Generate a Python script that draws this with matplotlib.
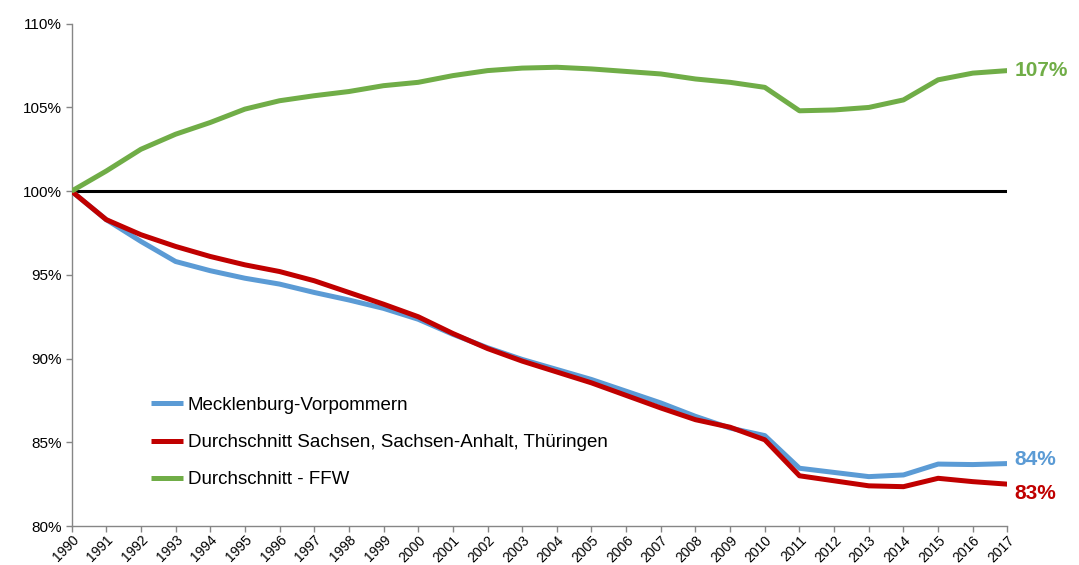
import matplotlib.pyplot as plt
import numpy as np

plt.rcParams['font.family'] = ['Liberation Sans', 'DejaVu Sans']

# data (index 1990 = 100%)
years = list(range(1990, 2018))
mv = [100.0, 98.3, 97.0, 95.8, 95.25, 94.8, 94.45, 93.95, 93.5, 93.0,
      92.35, 91.45, 90.65, 89.95, 89.35, 88.75, 88.05, 87.35, 86.55, 85.85,
      85.4, 83.45, 83.2, 82.95, 83.05, 83.7, 83.67, 83.73]
sst = [100.0, 98.3, 97.4, 96.7, 96.1, 95.6, 95.2, 94.65, 93.95, 93.25,
       92.5, 91.5, 90.6, 89.85, 89.2, 88.55, 87.8, 87.05, 86.35, 85.9,
       85.15, 83.0, 82.7, 82.4, 82.35, 82.85, 82.65, 82.5]
ffw = [100.0, 101.2, 102.5, 103.4, 104.1, 104.9, 105.4, 105.7, 105.95, 106.3,
       106.5, 106.9, 107.2, 107.35, 107.4, 107.3, 107.15, 107.0, 106.7, 106.5,
       106.2, 104.8, 104.85, 105.0, 105.45, 106.65, 107.05, 107.2]
series_names = ['Mecklenburg-Vorpommern',
                'Durchschnitt Sachsen, Sachsen-Anhalt, Thüringen',
                'Durchschnitt - FFW']
end_labels = ['84%', '83%', '107%']
colors = ['#5B9BD5', '#C00000', '#70AD47']

fig = plt.figure(figsize=(10.79, 5.65), dpi=100)
ax = fig.add_axes([0.0663, 0.069, 0.8674, 0.889])

ax.axhline(100, color='black', lw=2.2, zorder=1)
for vals, name, clr in zip([mv, sst, ffw], series_names, colors):
    ax.plot(years, vals, color=clr, lw=3.6, label=name, zorder=3,
            solid_joinstyle='round', solid_capstyle='butt')

# end-of-line labels
label_y = [83.95, 81.95, 107.2]
for vals, txt, clr, ly in zip([mv, sst, ffw], end_labels, colors, label_y):
    ax.annotate(txt, xy=(years[-1], ly), xytext=(5, 0), textcoords='offset points',
                color=clr, fontsize=15, fontweight='bold', va='center', ha='left',
                annotation_clip=False)

ax.set_xlim(1990, 2017)
ax.set_ylim(80, 110)
ax.set_xticks(years)
ax.set_xticklabels([str(y) for y in years], rotation=45, ha='right',
                   rotation_mode='anchor', fontsize=10)
ax.set_yticks(np.arange(80, 111, 5))
ax.set_yticklabels(['%d%%' % v for v in range(80, 111, 5)], fontsize=11)

for side in ['top', 'right']:
    ax.spines[side].set_visible(False)
for side in ['left', 'bottom']:
    ax.spines[side].set_color('#868686')
    ax.spines[side].set_linewidth(1.0)
ax.tick_params(axis='both', direction='out', length=4, color='#868686', width=1.0)
ax.tick_params(axis='x', pad=1)
ax.tick_params(axis='y', pad=3)

ax.legend(loc='upper left', bbox_to_anchor=(0.077, 0.272), borderaxespad=0,
          frameon=False, fontsize=13.5, handlelength=1.7, handletextpad=0.25,
          labelspacing=1.07)

fig.savefig('out.png', dpi=100)
